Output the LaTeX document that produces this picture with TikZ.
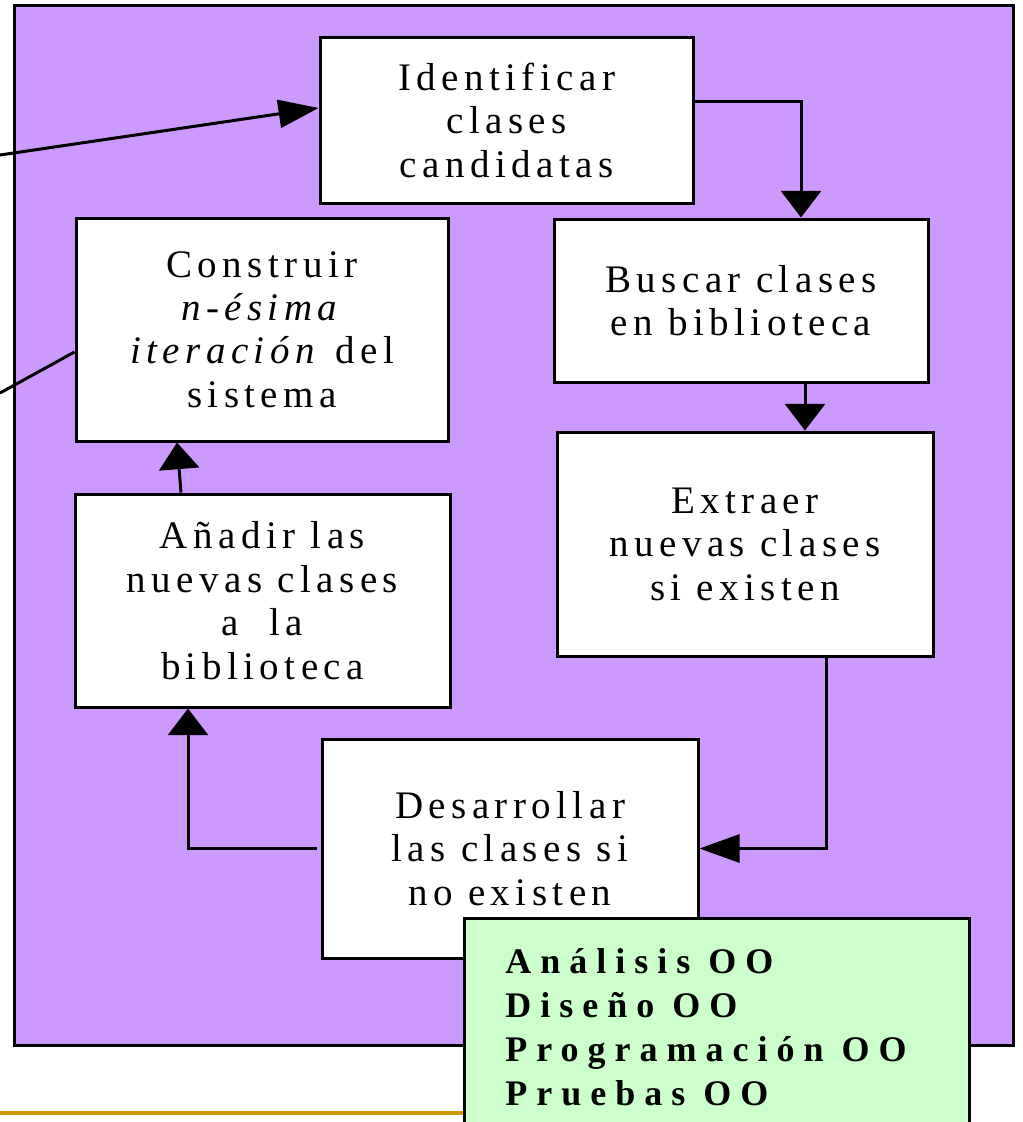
\documentclass[tikz,border=0pt]{standalone}
\usepackage{fontspec}
\setmainfont{Liberation Serif}
\newfontfamily\boxfont{Liberation Serif}[LetterSpace=14]
\newfontfamily\greenfont{Liberation Serif}[LetterSpace=25]
\usetikzlibrary{arrows.meta,calc}
\definecolor{lila}{HTML}{CC99FF}
\definecolor{verde}{HTML}{CCFFCC}
\definecolor{oro}{HTML}{CC9900}
\tikzset{
  stepbox/.style={draw=black, line width=2.25pt, fill=white, inner sep=0pt, align=center,
    font=\boxfont\fontsize{29.25}{32.6}\selectfont},
  conn/.style={line width=2.25pt, black},
  harr/.style={conn, -{Triangle[length=30pt,width=21pt]}},
  varr/.style={conn, -{Triangle[length=20pt,width=30pt]}},
}
\begin{document}
\begin{tikzpicture}[x=0.75pt,y=-0.75pt]
\useasboundingbox (0,0) rectangle (1022,1122);
% frame
\node[draw=black, line width=2.25pt, fill=lila, inner sep=0pt,
      minimum width=749.25pt, minimum height=780pt] (frame) at (513.5,525) {};
% boxes
\node[stepbox, minimum width=279.75pt, minimum height=124.5pt] (ident) at (506.5,120)
  {Identificar\\clases\\candidatas};
\node[stepbox, minimum width=279pt, minimum height=167.25pt] (constr) at (262,329.5)
  {Construir\\\textit{n-ésima}\\\textit{iteración} del\\sistema};
\node[stepbox, minimum width=280.5pt, minimum height=122.25pt] (buscar) at (741,300.5)
  {Buscar clases\\en biblioteca};
\node[stepbox, minimum width=282pt, minimum height=168pt] (extraer) at (745,544)
  {Extraer\\nuevas clases\\si existen};
\node[stepbox, minimum width=281.25pt, minimum height=159.75pt] (anadir) at (262.5,600.5)
  {Añadir las\\nuevas clases\\a~~la\\biblioteca};
\node[stepbox, minimum width=282pt, minimum height=164.25pt] (desarr) at (510,848.5)
  {Desarrollar\\las clases si\\no existen};
% free ends
\coordinate (in1) at (0,155);
\coordinate (in2) at (0,393);
% connectors
\draw[harr] (in1) -- ($(ident.west)+(0,-12)$);
\draw[conn] (in2) -- ($(constr.west)+(0,22.5)$);
\draw[varr] ($(ident.east)+(0,-19)$) -| ($(buscar.north)+(60,0)$);
\draw[varr] ($(buscar.south)+(64,0)$) -- ($(extraer.north)+(60,0)$);
\draw[harr] ($(extraer.south)+(81,0)$) |- (desarr.east);
\draw[varr] ($(desarr.west)+(-4,0)$) -| ($(anadir.south)+(-74.5,0)$);
\draw[varr] ($(anadir.north)+(-81.5,0)$) -- ($(constr.south)+(-85,0)$);
% gold rule
\draw[oro, line width=3pt] (0,1113) -- (464,1113);
% green box
\node[draw=black, line width=2.25pt, fill=verde, inner sep=0pt,
      minimum width=378.75pt, minimum height=159pt] (green) at (716.5,1024) {};
\node[anchor=base west, align=left, inner sep=0pt,
      font=\greenfont\bfseries\fontsize{27}{33}\selectfont] (gtext) at (505,1105)
  {Análisis OO\\Diseño OO\\Programación OO\\Pruebas OO};
\end{tikzpicture}
\end{document}
